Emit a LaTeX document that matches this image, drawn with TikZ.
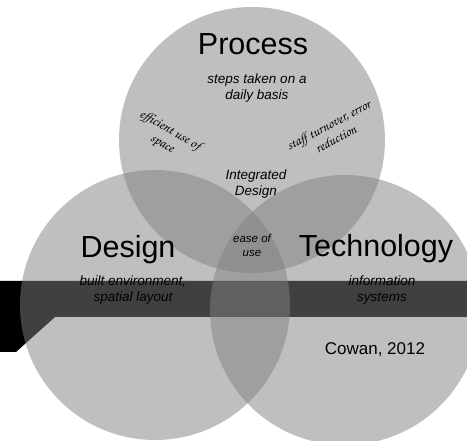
\documentclass[tikz,border=0pt]{standalone}
\usepackage{fontspec}
\setmainfont{Liberation Sans}
\newfontfamily\handfont{TeX Gyre Chorus}
\begin{document}
\begin{tikzpicture}[x=1pt,y=-1pt,
  ring/.style={circle, inner sep=0pt, minimum size=#1, fill=black!50, fill opacity=0.5, draw=none},
  title/.style={font=\fontsize{30.5}{34}\selectfont, anchor=base, inner sep=0pt, text=black},
  note/.style={font=\fontsize{13.5}{16}\selectfont\itshape, align=center, inner sep=0pt, text=black},
  hand/.style={font=\fontsize{13.5}{15.5}\selectfont\handfont, align=center, inner sep=0pt, text=black}]
\useasboundingbox (0,0) rectangle (467,441);

% dark banner behind the three sets
\fill[black] (0,281) -- (467,281) -- (467,317) -- (55,317) -- (16,352) -- (0,352) -- cycle;

% the three overlapping sets
\node[ring=266pt] (proc) at (252,140) {};
\node[ring=270pt] (desg) at (155,305) {};
\node[ring=270pt] (tech) at (345,310) {};

% set titles
\node[title] (tproc) at (253,55) {Process};
\node[title] (tdesg) at (128,258) {Design};
\node[title] (ttech) at (376,257) {Technology};

% descriptions
\node[note] (dproc) at (257,88.5) {steps taken on a\\daily basis};
\node[note] (ddesg) at (133,290.5) {built environment,\\spatial layout};
\node[note] (dtech) at (382,290.5) {information\\systems};
\node[note] (dint) at (256,184) {Integrated\\Design};
\node[note, font=\fontsize{11.5}{14}\selectfont\itshape] (dease) at (252,245) {ease of\\use};

% handwritten overlap notes
\node[hand, rotate=-30] (hleft) at (166,137.5) {efficient use of\\space};
\node[hand, rotate=28] (hright) at (332,132) {staff turnover, error\\reduction};

% citation
\node[font=\fontsize{17}{20}\selectfont, inner sep=0pt, text=black] (cite) at (375,350) {Cowan, 2012};
\end{tikzpicture}
\end{document}
